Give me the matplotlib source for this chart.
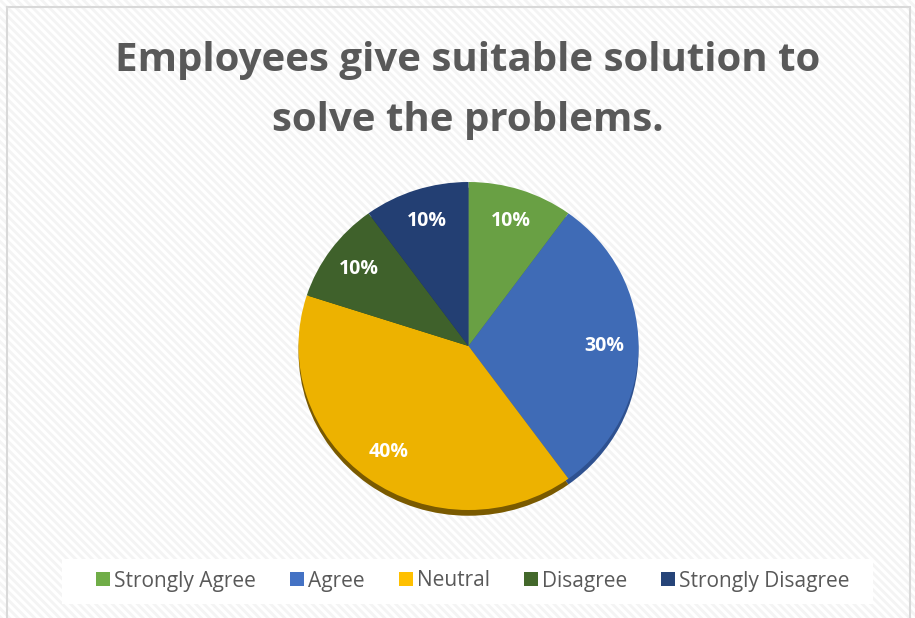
import matplotlib
matplotlib.use("Agg")
import matplotlib.pyplot as plt
from matplotlib.patches import Rectangle, Patch

plt.rcParams["font.family"] = ["Open Sans", "DejaVu Sans"]
plt.rcParams["hatch.linewidth"] = 2.0

categories = ["Strongly Agree", "Agree", "Neutral", "Disagree", "Strongly Disagree"]
shares = [10, 30, 40, 10, 10]
pie_colors = ["#69A044", "#3F6BB6", "#EDB200", "#3F612B", "#233F73"]
shadow_colors = ["#4E7A30", "#2E5190", "#7A5A00", "#2C461E", "#182D55"]
legend_colors = ["#70AD47", "#4472C4", "#FFC000", "#43682B", "#264478"]
title = "Employees give suitable solution to\nsolve the problems."

W, H = 915, 618
fig = plt.figure(figsize=(W / 100, H / 100), dpi=100)

# hatched background with light border
bg = Rectangle((0, 0), 1, 1, transform=fig.transFigure, facecolor="white",
               edgecolor="#F4F4F4", hatch="\\\\\\\\", linewidth=0, zorder=-10)
fig.patches.append(bg)
border = Rectangle((7 / W, -0.02), (910 - 7) / W, 1 - 7 / H + 0.02,
                   transform=fig.transFigure, facecolor="none",
                   edgecolor="#D9D9D9", linewidth=1.5, zorder=-9)
fig.patches.append(border)

fig.text(468 / W, 1 - 91 / H, title, ha="center", va="center", fontsize=29,
         fontweight="bold", color="#595959", linespacing=1.7)

# pie axes, centre in pixels
cx, cy, rx, ry = 468.5, 346, 170, 164
ax = fig.add_axes([(cx - rx) / W, 1 - (cy + ry) / H, 2 * rx / W, 2 * ry / H])

ax.pie(shares, colors=shadow_colors, startangle=90, counterclock=False,
       radius=1.0, center=(0, -0.035))
wedges, texts, autotexts = ax.pie(
    shares, colors=pie_colors, startangle=90, counterclock=False, radius=1.0,
    autopct="%d%%", pctdistance=0.8,
    textprops=dict(color="white", fontsize=14, fontweight="bold"))
ax.set_xlim(-1, 1)
ax.set_ylim(-1, 1)
ax.set_aspect("auto")

# legend on white band
band = Rectangle((62 / W, 1 - 604 / H), (873 - 62) / W, 45 / H,
                 transform=fig.transFigure, facecolor="white",
                 edgecolor="none", zorder=-5)
fig.patches.append(band)
handles = [Patch(facecolor=c, edgecolor="none") for c in legend_colors]
leg = fig.legend(handles, categories, loc="center", bbox_to_anchor=(473 / W, 1 - 581 / H),
                 ncol=5, frameon=False, fontsize=15, handlelength=0.65,
                 handleheight=0.65, handletextpad=0.2, columnspacing=1.65)
for t in leg.get_texts():
    t.set_color("#595959")

fig.savefig("out.png", dpi=100)
